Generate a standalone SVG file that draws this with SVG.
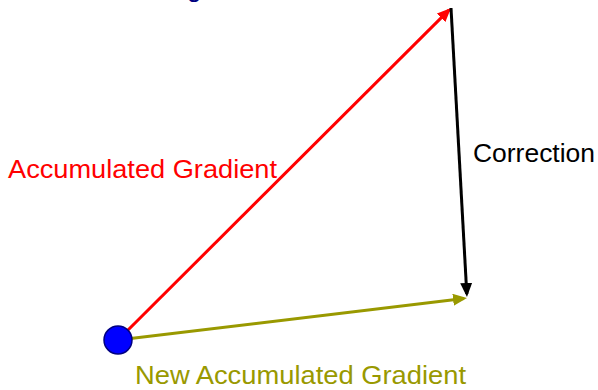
<svg xmlns="http://www.w3.org/2000/svg" width="598" height="390" viewBox="0 0 598 390">
<style>
.lbl{font-family:"Liberation Sans","DejaVu Sans",sans-serif;font-size:26px}
.ln{stroke-width:3;fill:none}
</style>
<defs>
<marker id="ar" markerUnits="userSpaceOnUse" markerWidth="15" markerHeight="12" refX="11" refY="6" orient="auto">
<path d="M0,0 L14,6 L0,12 z" fill="#ff0000"/>
</marker>
<marker id="ab" markerUnits="userSpaceOnUse" markerWidth="15" markerHeight="12" refX="11" refY="6" orient="auto">
<path d="M0,0 L14,6 L0,12 z" fill="#000000"/>
</marker>
<marker id="ao" markerUnits="userSpaceOnUse" markerWidth="15" markerHeight="12" refX="11" refY="6" orient="auto">
<path d="M0,0 L14,6 L0,12 z" fill="#999900"/>
</marker>
</defs>
<rect width="598" height="390" fill="#ffffff"/>
<g id="connectors">
<line class="ln" x1="118" y1="340" x2="448.9" y2="10.1" stroke="#ff0000" marker-end="url(#ar)"/>
<line class="ln" x1="451" y1="8" x2="466.8" y2="294" stroke="#000000" marker-end="url(#ab)"/>
<line class="ln" x1="118" y1="340" x2="464" y2="298.4" stroke="#999900" marker-end="url(#ao)"/>
</g>
<g id="start">
<circle cx="118" cy="340" r="14" fill="#0000ff" stroke="#000080" stroke-width="1.5"/>
</g>
<g id="labels">
<text class="lbl" x="187" y="-3" fill="#000080">g</text>
<text class="lbl" x="8" y="178" fill="#ff0000" textLength="269" lengthAdjust="spacingAndGlyphs">Accumulated Gradient</text>
<text class="lbl" x="473" y="162" fill="#000000" textLength="122" lengthAdjust="spacingAndGlyphs">Correction</text>
<text class="lbl" x="135" y="384" fill="#999900" textLength="331" lengthAdjust="spacingAndGlyphs">New Accumulated Gradient</text>
</g>
</svg>
